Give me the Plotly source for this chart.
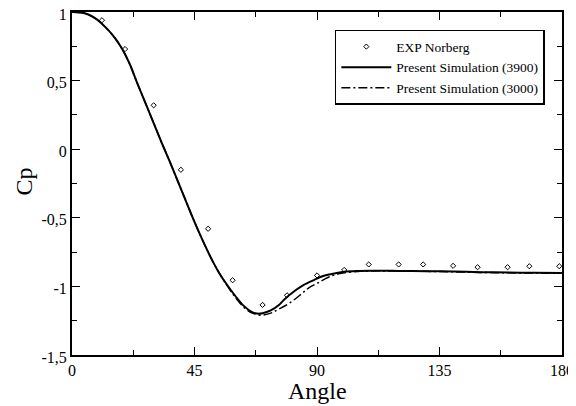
import plotly.graph_objects as go

# Experimental data (Norberg)
exp_angle = [11, 19.5, 30, 40, 50, 59, 70, 79, 90, 100, 109, 120, 129, 140, 149, 160, 168, 179]
exp_cp = [0.94, 0.73, 0.32, -0.15, -0.58, -0.955, -1.135, -1.065, -0.92, -0.88, -0.84, -0.84,
          -0.84, -0.85, -0.86, -0.86, -0.853, -0.853]

# Present simulation (Re 3900)
sim3900_angle = [0, 3, 6, 9, 12, 15, 18, 21, 24, 27, 30, 33, 36, 39, 42, 45, 48, 51, 54, 57, 60,
                 63, 66, 68, 70, 73, 76, 78, 82, 85, 89, 92, 95, 100, 105, 110, 120, 130, 140,
                 150, 160, 170, 180]
sim3900_cp = [1.0, 0.997, 0.982, 0.948, 0.895, 0.83, 0.745, 0.63, 0.48, 0.335, 0.19, 0.045,
              -0.095, -0.24, -0.385, -0.53, -0.665, -0.79, -0.9, -0.99, -1.07, -1.14, -1.185,
              -1.198, -1.195, -1.175, -1.135, -1.095, -1.03, -0.99, -0.952, -0.926, -0.911,
              -0.894, -0.888, -0.886, -0.887, -0.889, -0.892, -0.896, -0.899, -0.901, -0.903]

# Present simulation (Re 3000)
sim3000_angle = [0, 3, 6, 9, 12, 15, 18, 21, 24, 27, 30, 33, 36, 39, 42, 45, 48, 51, 54, 57, 60,
                 63, 66, 69.7, 73, 76, 80, 84, 87, 90, 94, 98.5, 105, 110, 120, 130, 140, 150,
                 160, 170, 180]
sim3000_cp = [1.0, 0.997, 0.982, 0.948, 0.895, 0.83, 0.745, 0.63, 0.48, 0.335, 0.19, 0.045,
              -0.095, -0.24, -0.385, -0.53, -0.665, -0.79, -0.9, -0.995, -1.08, -1.15, -1.192,
              -1.21, -1.195, -1.165, -1.12, -1.06, -1.01, -0.978, -0.935, -0.906, -0.891,
              -0.887, -0.888, -0.89, -0.894, -0.898, -0.901, -0.903, -0.905]

x_tickvals = [0, 45, 90, 135, 180]
x_ticktext = ["0", "45", "90", "135", "180"]
y_tickvals = [1, 0.5, 0, -0.5, -1, -1.5]
y_ticktext = ["1", "0,5", "0", "-0,5", "-1", "-1,5"]

serif = "Liberation Serif"

fig = go.Figure()
fig.add_trace(go.Scatter(x=exp_angle, y=exp_cp, mode="markers", name="EXP Norberg",
                         marker=dict(symbol="diamond-open", size=4, color="black",
                                     line=dict(width=1, color="black"))))
fig.add_trace(go.Scatter(x=sim3900_angle, y=sim3900_cp, mode="lines",
                         name="Present Simulation (3900)", line_shape="spline",
                         line=dict(color="black", width=2)))
fig.add_trace(go.Scatter(x=sim3000_angle, y=sim3000_cp, mode="lines",
                         name="Present Simulation (3000)", line_shape="spline",
                         line=dict(color="black", width=1.5, dash="9px,3px,2px,3px")))

axis_common = dict(showline=True, linecolor="black", linewidth=2, mirror="ticks",
                   ticks="inside", ticklen=8, tickwidth=1, tickcolor="black",
                   showgrid=False, zeroline=False, automargin=False,
                   ticklabeloverflow="allow",
                   tickfont=dict(family=serif, size=16, color="black"))

fig.update_xaxes(range=[0, 180], tickmode="array", tickvals=x_tickvals, ticktext=x_ticktext,
                 minor=dict(ticks="inside", ticklen=5, tickwidth=1, tickcolor="black",
                            tickmode="linear", tick0=0, dtick=22.5, showgrid=False),
                 **axis_common)
fig.update_yaxes(range=[-1.5, 1], tickmode="array", tickvals=y_tickvals, ticktext=y_ticktext,
                 minor=dict(ticks="inside", ticklen=5, tickwidth=1, tickcolor="black",
                            tickmode="linear", tick0=0, dtick=0.25, showgrid=False),
                 ticklabelshift=2,
                 **axis_common)

# axis titles
fig.add_annotation(text="Angle", xref="paper", yref="paper", x=0.5, y=-0.062,
                   xanchor="center", yanchor="top", showarrow=False,
                   font=dict(family=serif, size=24, color="black"))
fig.add_annotation(text="Cp", xref="paper", yref="paper", x=-0.098, y=0.506,
                   xanchor="center", yanchor="middle", showarrow=False, textangle=-90,
                   font=dict(family=serif, size=24, color="black"))

fig.update_layout(
    width=568, height=398,
    margin=dict(l=64, r=14, t=4, b=51),
    plot_bgcolor="white", paper_bgcolor="white",
    font=dict(family=serif, color="black"),
    legend=dict(x=0.965, y=0.948, xanchor="right", yanchor="top",
                bgcolor="white", bordercolor="black", borderwidth=1.5,
                font=dict(family=serif, size=13.5, color="black"),
                itemwidth=50, tracegroupgap=0),
    showlegend=True,
)

fig.write_html("out.html")
